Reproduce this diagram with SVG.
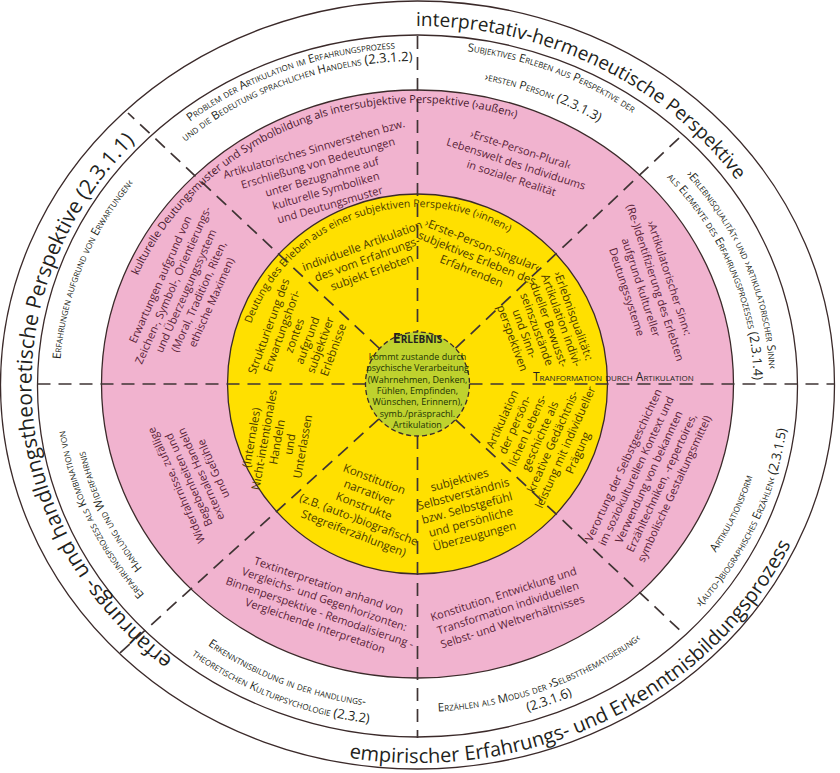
<svg xmlns="http://www.w3.org/2000/svg" width="840" height="773" viewBox="0 0 840 773">
<style>
.ring{stroke:#3b2a2a;stroke-width:1.3}
.dash{stroke:#3f3434;stroke-width:1.7;stroke-dasharray:13 8;fill:none}
text{font-family:"Open Sans","Noto Sans",sans-serif}
.title{font-size:21px;fill:#231f20}
.band{font-size:11.5px;font-variant:small-caps;fill:#231f20}
.num{font-size:13px;font-variant:normal}
.pk{font-size:11px;fill:#5a1f38;text-anchor:middle}
.yl{font-size:11.5px;fill:#4b3b00;text-anchor:middle}
.gr{font-size:9px;fill:#1d3305;text-anchor:middle}
.mid{text-anchor:middle}
</style>
<defs>
<path id="tTop" d="M 414.1,26 A 388 358 0 0 1 805.5,384"/>
<path id="tLeft" d="M 350.5,734.6 A 386 356 0 0 1 135.2,141.2"/>
<path id="tBot" d="M 310.9,750.1 A 412 379 0 0 0 823.2,449.8"/>
<path id="l1a" d="M 62.8,308.4 A 364 336 0 0 1 615.7,102.2"/>
<path id="l1b" d="M 75.5,311.3 A 351 323 0 0 1 608.7,113.1"/>
<path id="l2a" d="M 224.6,99.1 A 364 336 0 0 1 773.5,314.1"/>
<path id="l2b" d="M 238.4,121.1 A 338 310 0 0 1 748.1,319.5"/>
<path id="l3a" d="M 505.6,70.3 A 352 324 0 0 1 707.6,567.5"/>
<path id="l3b" d="M 501.6,85.8 A 336 308 0 0 1 694.4,558.5"/>
<path id="l4a" d="M 490.3,699 A 350 322 0 0 0 714.3,213.4"/>
<path id="l4b" d="M 494.8,720.5 A 372 344 0 0 0 733,201.7"/>
<path id="l5a" d="M 223.6,659.1 A 356 328 0 0 0 764.4,457.8"/>
<path id="l5b" d="M 215.4,671.7 A 371 343 0 0 0 779,461.2"/>
<path id="l6a" d="M 71.6,448.8 A 353 325 0 0 0 601.9,661.1"/>
<path id="l6b" d="M 54.9,452.2 A 370 342 0 0 0 610.8,675.6"/>
<path id="l7a" d="M 343.5,704.8 A 356 328 0 0 1 115.6,210.2"/>
<path id="l7b" d="M 346.8,689.2 A 338 310 0 0 1 130,219.7"/>
<path id="l8" d="M 124.2,573.3 A 358 330 0 0 1 324.8,65.3"/>
<path id="pkArc" d="M 119.1,335.2 A 303 281 0 0 1 573.5,143.1"/>
<path id="ylArc" d="M 246.5,338.2 A 177 177 0 0 1 521.5,240.8"/>
</defs>

<g id="rings">
<ellipse cx="417.5" cy="385" rx="417" ry="384" fill="#ffffff" class="ring"/>
<ellipse cx="417.5" cy="386" rx="380" ry="351" fill="#ffffff" class="ring"/>
<ellipse cx="417.5" cy="384" rx="316" ry="294" fill="#f1b3cf" class="ring"/>
<circle cx="417.5" cy="384" r="190" fill="#ffe000" class="ring"/>
</g>

<g id="connectors">
<line class="dash" x1="417.5" y1="36" x2="417.5" y2="332"/>
<line class="dash" x1="417.5" y1="436" x2="417.5" y2="738"/>
<line class="dash" x1="37.5" y1="384" x2="365.5" y2="384"/>
<line class="dash" x1="469.5" y1="384" x2="834.5" y2="384"/>
<line class="dash" x1="379.5" y1="348.5" x2="128" y2="113"/>
<line class="dash" x1="455.4" y1="348.4" x2="683.3" y2="134"/>
<line class="dash" x1="379" y1="418.9" x2="120" y2="653"/>
<line class="dash" x1="455.4" y1="419.6" x2="683.6" y2="633.7"/>
</g>

<g id="center">
<circle cx="417.5" cy="384" r="52" fill="#bfd22e" stroke="#3b2a2a" stroke-width="1.3" stroke-dasharray="5 3"/>
<text class="gr" x="417.5" y="343" style="font-size:14px;font-weight:bold;font-variant:small-caps;fill:#231f20">Erlebnis</text>
<text class="gr" x="417.5" y="360">kommt zustande durch</text>
<text class="gr" x="417.5" y="371.3">psychische Verarbeitung</text>
<text class="gr" x="417.5" y="382.6">(Wahrnehmen, Denken,</text>
<text class="gr" x="417.5" y="393.9">Fühlen, Empfinden,</text>
<text class="gr" x="417.5" y="405.2">Wünschen, Erinnern),</text>
<text class="gr" x="417.5" y="416.5">symb./präsprachl.</text>
<text class="gr" x="417.5" y="427.8">Artikulation</text>
</g>

<g id="titles">
<text class="title" style="font-size:19px"><textPath href="#tTop" startOffset="2">interpretativ-hermeneutische Perspektive</textPath></text>
<text class="title" text-anchor="end"><textPath href="#tLeft" startOffset="100%">erfahrungs- und handlungstheoretische Perspektive (2.3.1.1)</textPath></text>
<text class="title" style="font-size:20px"><textPath href="#tBot" startOffset="39">empirischer Erfahrungs- und Erkenntnisbildungsprozess</textPath></text>
</g>

<g id="band-labels">
<text class="band mid"><textPath href="#l1a" startOffset="50%">Problem der Artikulation im Erfahrungsprozess</textPath></text>
<text class="band mid"><textPath href="#l1b" startOffset="50%">und die Bedeutung sprachlichen Handelns <tspan class="num">(2.3.1.2)</tspan></textPath></text>
<text class="band mid"><textPath href="#l2a" startOffset="50%">Subjektives Erleben aus Perspektive der</textPath></text>
<text class="band mid"><textPath href="#l2b" startOffset="50%">›ersten Person‹ <tspan class="num">(2.3.1.3)</tspan></textPath></text>
<text class="band mid"><textPath href="#l3a" startOffset="50%">›Erlebnisqualität‹ und ›artikulatorischer Sinn‹</textPath></text>
<text class="band mid"><textPath href="#l3b" startOffset="50%">als Elemente des Erfahrungsprozesses <tspan class="num">(2.3.1.4)</tspan></textPath></text>
<text class="band mid"><textPath href="#l4a" startOffset="50%">Artikulationsform</textPath></text>
<text class="band mid"><textPath href="#l4b" startOffset="50%">›(auto-)biographisches Erzählen‹ <tspan class="num">(2.3.1.5)</tspan></textPath></text>
<text class="band mid"><textPath href="#l5a" startOffset="50%">Erzählen als Modus der ›Selbstthematisierung‹</textPath></text>
<text class="band mid"><textPath href="#l5b" startOffset="50%"><tspan class="num">(2.3.1.6)</tspan></textPath></text>
<text class="band mid"><textPath href="#l6a" startOffset="50%">Erkenntnisbildung in der handlungs-</textPath></text>
<text class="band mid"><textPath href="#l6b" startOffset="50%">theoretischen Kulturpsychologie <tspan class="num">(2.3.2)</tspan></textPath></text>
<text class="band mid"><textPath href="#l7a" startOffset="50%">Erfahrungsprozess als Kombination von</textPath></text>
<text class="band mid"><textPath href="#l7b" startOffset="50%">Handlung und Widerfahrnis</textPath></text>
<text class="band mid"><textPath href="#l8" startOffset="50%">Erfahrungen aufgrund von Erwartungen‹</textPath></text>
</g>

<g id="pink-sectors">
<text class="pk" style="font-size:11px;fill:#4a1a30"><textPath href="#pkArc" startOffset="50%">kulturelle Deutungsmuster und Symbolbildung als intersubjektive Perspektive (›außen‹)</textPath></text>
<g id="p1"><text class="pk" transform="translate(322 177) rotate(-16)"><tspan x="0" y="-25.3">Artikulatorisches Sinnverstehen bzw.</tspan><tspan x="0" y="-10.8">Erschließung von Bedeutungen</tspan><tspan x="0" y="3.7">unter Bezugnahme auf</tspan><tspan x="0" y="18.2">kulturelle Symboliken</tspan><tspan x="0" y="32.7">und Deutungsmuster</tspan></text></g>
<g id="p2"><text class="pk" transform="translate(516 164) rotate(18)"><tspan x="0" y="-11.3">›Erste-Person-Plural‹</tspan><tspan x="0" y="3.7">Lebenswelt des Individuums</tspan><tspan x="0" y="18.7">in sozialer Realität</tspan></text></g>
<g id="p3"><text class="pk" transform="translate(648 285) rotate(72)"><tspan x="0" y="-18.8">›Artikulatorischer Sinn‹:</tspan><tspan x="0" y="-3.8">(Re-)Identifizierung des Erlebten</tspan><tspan x="0" y="11.2">aufgrund kultureller</tspan><tspan x="0" y="26.2">Deutungssysteme</tspan></text></g>
<g id="p4"><text class="pk" transform="translate(649 477) rotate(-65)"><tspan x="0" y="-24.3">Verortung der Selbstgeschichten</tspan><tspan x="0" y="-10.3">im soziokulturellen Kontext und</tspan><tspan x="0" y="3.7">Verwendung von bekannten</tspan><tspan x="0" y="17.7">Erzähltechniken, -repertoires,</tspan><tspan x="0" y="31.7">symbolische Gestaltungsmittel)</tspan></text></g>
<g id="p5"><text class="pk" transform="translate(508 608) rotate(-18)"><tspan x="0" y="-10.8">Konstitution, Entwicklung und</tspan><tspan x="0" y="3.7">Transformation individuellen</tspan><tspan x="0" y="18.2">Selbst- und Weltverhältnisses</tspan></text></g>
<g id="p6"><text class="pk" transform="translate(322 606) rotate(19)"><tspan x="0" y="-17.3">Textinterpretation anhand von</tspan><tspan x="0" y="-3.3">Vergleichs- und Gegenhorizonten:</tspan><tspan x="0" y="10.7">Binnenperspektive - Remodalisierung -</tspan><tspan x="0" y="24.7">Vergleichende Interpretation</tspan></text></g>
<g id="p7"><text class="pk" transform="translate(195 477) rotate(-114)"><tspan x="0" y="-16.6">Widerfahrnisse, zufällige</tspan><tspan x="0" y="-3.1">Begebenheiten und</tspan><tspan x="0" y="10.4">externales Handeln</tspan><tspan x="0" y="23.9">und Gefühle</tspan></text></g>
<g id="p8"><text class="pk" transform="translate(186 291) rotate(-66)"><tspan x="0" y="-24.3">Erwartungen aufgrund von</tspan><tspan x="0" y="-10.3">Zeichen-, Symbol-, Orientierungs-</tspan><tspan x="0" y="3.7">und Überzeugungssystem</tspan><tspan x="0" y="17.7">(Moral, Tradition, Riten,</tspan><tspan x="0" y="31.7">ethische Maximen)</tspan></text></g>
</g>

<g id="yellow-sectors">
<text class="yl" style="font-size:10.5px"><textPath href="#ylArc" startOffset="50%">Deutung des Erleben aus einer subjektiven Perspektive (›innen‹)</textPath></text>
<g id="y1"><text class="yl" transform="translate(367 259) rotate(-20)"><tspan x="0" y="-10">individuelle Artikulation</tspan><tspan x="0" y="4">des vom Erfahrungs-</tspan><tspan x="0" y="18">subjekt Erlebten</tspan></text></g>
<g id="y2"><text class="yl" transform="translate(301 338) rotate(-70)"><tspan x="0" y="-30.3">Strukturierung des</tspan><tspan x="0" y="-16.6">Erwartungshori-</tspan><tspan x="0" y="-2.9">zontes</tspan><tspan x="0" y="10.9">aufgrund</tspan><tspan x="0" y="24.6">subjektiver</tspan><tspan x="0" y="38.3">Erlebnisse</tspan></text></g>
<g id="y3"><text class="yl" transform="translate(277 442) rotate(-80)"><tspan x="0" y="-22">(Internales)</tspan><tspan x="0" y="-9">Nicht-intentionales</tspan><tspan x="0" y="4">Handeln</tspan><tspan x="0" y="17">und</tspan><tspan x="0" y="30">Unterlassen</tspan></text></g>
<g id="y4"><text class="yl" transform="translate(364 506) rotate(21)"><tspan x="0" y="-25">Konstitution</tspan><tspan x="0" y="-10.5">narrativer</tspan><tspan x="0" y="4">Konstrukte</tspan><tspan x="0" y="18.5">(z.B. (auto-)biografische</tspan><tspan x="0" y="33">Stegreiferzählungen)</tspan></text></g>
<g id="y5"><text class="yl" transform="translate(467 508) rotate(-15)"><tspan x="0" y="-25">subjektives</tspan><tspan x="0" y="-10.5">Selbstverständnis</tspan><tspan x="0" y="4">bzw. Selbstgefühl</tspan><tspan x="0" y="18.5">und persönliche</tspan><tspan x="0" y="33">Überzeugungen</tspan></text></g>
<g id="y6"><text class="yl" transform="translate(540 436) rotate(-66)"><tspan x="0" y="-37.4">Artikulation</tspan><tspan x="0" y="-23.6">der persön-</tspan><tspan x="0" y="-9.8">lichen Lebens-</tspan><tspan x="0" y="4">geschichte als</tspan><tspan x="0" y="17.8">kreative Gedächtnis-</tspan><tspan x="0" y="31.6">leistung mit individueller</tspan><tspan x="0" y="45.4">Prägung</tspan></text></g>
<g id="y7"><text class="yl" transform="translate(543 327) rotate(70)"><tspan x="0" y="-28.5">›Erlebnisqualität‹:</tspan><tspan x="0" y="-15.5">Artikulation indivi-</tspan><tspan x="0" y="-2.5">dueller Bewusst-</tspan><tspan x="0" y="10.5">seinszustände</tspan><tspan x="0" y="23.5">und Sinn-</tspan><tspan x="0" y="36.5">perspektiven</tspan></text></g>
<g id="y8"><text class="yl" transform="translate(477 258) rotate(22)"><tspan x="0" y="-10">›Erste-Person-Singular‹</tspan><tspan x="0" y="4">subjektives Erleben des</tspan><tspan x="0" y="18">Erfahrenden</tspan></text></g>
</g>

<g id="transformation">
<text class="band" x="533" y="381" style="font-size:12px">Tranformation durch Artikulation</text>
</g>
</svg>
